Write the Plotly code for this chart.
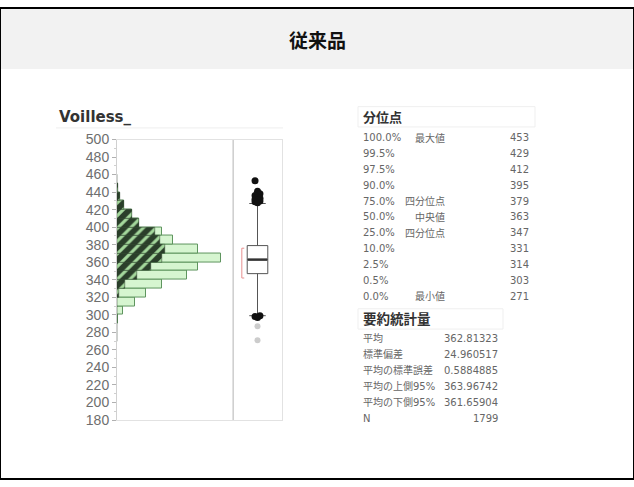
import plotly.graph_objects as go

# ---------------- data ----------------
bin_lo = [270, 280, 290, 300, 310, 320, 330, 340, 350, 360, 370, 380, 390, 400, 410, 420, 430, 440, 450]
counts_all = [1, 1, 4, 17, 54, 86, 134, 210, 243, 311, 243, 167, 134, 66, 45, 21, 9, 2, 1]
counts_sel = [0, 0, 0, 0, 0, 6, 24, 60, 103, 136, 145, 130, 114, 66, 45, 21, 9, 2, 1]
bin_width = 10

q1, median, q3 = 347, 363, 379
lower_fence, upper_fence = 299, 427
short_half = (342, 376)
outliers_dark = [453, 441, 438, 436, 434, 433, 432, 431, 430, 429, 428, 299, 298, 297]
outliers_gray = [287, 271]

q_pct = ["100.0%", "99.5%", "97.5%", "90.0%", "75.0%", "50.0%", "25.0%", "10.0%", "2.5%", "0.5%", "0.0%"]
q_name = ["最大値", "", "", "", "四分位点", "中央値", "四分位点", "", "", "", "最小値"]
q_val = ["453", "429", "412", "395", "379", "363", "347", "331", "314", "303", "271"]

s_name = ["平均", "標準偏差", "平均の標準誤差", "平均の上側95%", "平均の下側95%", "N"]
s_val = ["362.81323", "24.960517", "0.5884885", "363.96742", "361.65904", "1799"]

title = "従来品"
var_name = "Voilless_"

# ---------------- figure ----------------
W, H = 634, 487
def px(x):
    return x / W
def py(y):
    return 1 - y / H

centers = [b + bin_width / 2 for b in bin_lo]

fig = go.Figure()
fig.add_trace(go.Bar(
    y=centers, x=counts_all, orientation="h", width=bin_width,
    marker=dict(color="#d6f5d0", line=dict(color="#5f955f", width=1)),
    xaxis="x", yaxis="y", showlegend=False, hoverinfo="skip"))
fig.add_trace(go.Bar(
    y=centers, x=counts_sel, orientation="h", width=bin_width,
    marker=dict(color="#2a3e2a", line=dict(color="#2a3e2a", width=0.5),
                pattern=dict(shape="/", fillmode="replace", fgcolor="#a4d89c",
                             bgcolor="#2a3e2a", size=9, solidity=0.35)),
    xaxis="x", yaxis="y", showlegend=False, hoverinfo="skip"))

# box plot
fig.add_trace(go.Box(
    x=[0], q1=[q1], median=[median], q3=[q3],
    lowerfence=[lower_fence], upperfence=[upper_fence],
    width=0.42, whiskerwidth=0.8, boxpoints=False,
    fillcolor="white", line=dict(color="#555555", width=1),
    xaxis="x2", yaxis="y2", showlegend=False, hoverinfo="skip"))
# median emphasis
fig.add_trace(go.Scatter(
    x=[-0.2, 0.2], y=[median, median], mode="lines",
    line=dict(color="#333333", width=2.5),
    xaxis="x2", yaxis="y2", showlegend=False, hoverinfo="skip"))
# shortest half bracket
bx, bd = -0.32, 0.05
fig.add_trace(go.Scatter(
    x=[bx + bd, bx, bx, bx + bd], y=[short_half[0], short_half[0], short_half[1], short_half[1]],
    mode="lines", line=dict(color="#e89090", width=1),
    xaxis="x2", yaxis="y2", showlegend=False, hoverinfo="skip"))
# outliers
dark_x = [((i % 3) - 1) * 0.05 for i in range(len(outliers_dark))]
fig.add_trace(go.Scatter(
    x=dark_x, y=outliers_dark, mode="markers",
    marker=dict(color="#111111", size=7),
    xaxis="x2", yaxis="y2", showlegend=False, hoverinfo="skip"))
fig.add_trace(go.Scatter(
    x=[0] * len(outliers_gray), y=outliers_gray, mode="markers",
    marker=dict(color="#cccccc", size=6),
    xaxis="x2", yaxis="y2", showlegend=False, hoverinfo="skip"))

ydom = [py(426), py(136)]
fig.update_layout(
    width=W, height=H, autosize=False, margin=dict(l=0, r=0, t=0, b=0),
    paper_bgcolor="white", plot_bgcolor="white",
    barmode="overlay", bargap=0,
    xaxis=dict(domain=[px(117), px(233)], range=[0, 348], showticklabels=False,
               showgrid=False, zeroline=False, showline=True, mirror=True,
               linecolor="#e2e2e2", linewidth=1, fixedrange=True),
    yaxis=dict(domain=ydom, range=[180, 500], dtick=20, tick0=180,
               showgrid=False, zeroline=False, showline=True, mirror=True,
               linecolor="#d0d0d0", linewidth=1,
               ticks="outside", ticklen=4, tickcolor="#b0b0b0",
               minor=dict(ticks="outside", ticklen=2, tickcolor="#d0d0d0", dtick=10),
               tickfont=dict(family="Liberation Sans, Arial, sans-serif", size=14, color="#6e6e6e")),
    xaxis2=dict(domain=[px(233), px(282)], range=[-0.5, 0.5], showticklabels=False,
                showgrid=False, zeroline=False, showline=True, mirror=True,
                linecolor="#e2e2e2", linewidth=1, anchor="y2"),
    yaxis2=dict(domain=ydom, range=[180, 500], matches="y", showticklabels=False,
                showgrid=False, zeroline=False, showline=True, mirror=True,
                linecolor="#e2e2e2", linewidth=1, anchor="x2"),
)

shapes = [
    dict(type="rect", xref="paper", yref="paper", x0=0, x1=1, y0=py(63), y1=1,
         fillcolor="#f2f2f2", line=dict(width=0), layer="below"),
    dict(type="line", xref="paper", yref="paper", x0=px(56), x1=px(283), y0=py(124), y1=py(124),
         line=dict(color="#eeeeee", width=1)),
    dict(type="rect", xref="paper", yref="paper", x0=px(358), x1=px(535), y0=py(123), y1=py(102),
         line=dict(color="#efefef", width=1)),
    dict(type="rect", xref="paper", yref="paper", x0=px(358), x1=px(503), y0=py(332), y1=py(311),
         line=dict(color="#efefef", width=1)),
    dict(type="rect", xref="paper", yref="paper", x0=0, x1=1, y0=0, y1=1,
         line=dict(color="#000000", width=2)),
]
fig.update_layout(shapes=shapes)

font_tbl = "DejaVu Sans, Noto Sans CJK JP, sans-serif"
ann = []
ann.append(dict(text=f"<b>{title}</b>", x=0.5, y=py(33), xref="paper", yref="paper",
                showarrow=False, xanchor="center", yanchor="middle",
                font=dict(family="Noto Sans CJK JP", size=19, color="#111111")))
ann.append(dict(text=f"<b>{var_name}</b>", x=px(57), y=py(113), xref="paper", yref="paper",
                showarrow=False, xanchor="left", yanchor="middle",
                font=dict(family="DejaVu Sans", size=15, color="#333333")))
ann.append(dict(text="<b>分位点</b>", x=px(361), y=py(112), xref="paper", yref="paper",
                showarrow=False, xanchor="left", yanchor="middle",
                font=dict(family="Noto Sans CJK JP", size=13, color="#333333")))
ann.append(dict(text="<b>要約統計量</b>", x=px(361), y=py(321), xref="paper", yref="paper",
                showarrow=False, xanchor="left", yanchor="middle",
                font=dict(family="Noto Sans CJK JP", size=13.5, color="#333333")))

for i, (p, n, v) in enumerate(zip(q_pct, q_name, q_val)):
    yy = py(134 + i * 16.4)
    f = dict(family=font_tbl, size=10, color="#666666")
    ann.append(dict(text=p, x=px(361), y=yy, xref="paper", yref="paper", showarrow=False,
                    xanchor="left", yanchor="middle", font=f))
    if n:
        ann.append(dict(text=n, x=px(447), y=yy, xref="paper", yref="paper", showarrow=False,
                        xanchor="right", yanchor="middle", font=f))
    ann.append(dict(text=v, x=px(531), y=yy, xref="paper", yref="paper", showarrow=False,
                    xanchor="right", yanchor="middle", font=f))

for i, (n, v) in enumerate(zip(s_name, s_val)):
    yy = py(341.5 + i * 16.5)
    f = dict(family=font_tbl, size=10, color="#666666")
    ann.append(dict(text=n, x=px(361), y=yy, xref="paper", yref="paper", showarrow=False,
                    xanchor="left", yanchor="middle", font=f))
    ann.append(dict(text=v, x=px(500), y=yy, xref="paper", yref="paper", showarrow=False,
                    xanchor="right", yanchor="middle", font=f))

fig.update_layout(annotations=ann)

post = ("var st=document.createElement('style');"
        "st.textContent='html,body{margin:0!important;padding:0!important;overflow:hidden;width:634px;height:487px;}"
        ".plotly-graph-div{position:absolute!important;left:0!important;top:0!important;width:634px!important;height:487px!important;}';"
        "document.head.appendChild(st);"
        "var d=document.getElementById('{plot_id}');"
        "Plotly.relayout(d,{width:634,height:487,autosize:false});")
fig.write_html("out.html", config=dict(displayModeBar=False, responsive=False), post_script=post)
